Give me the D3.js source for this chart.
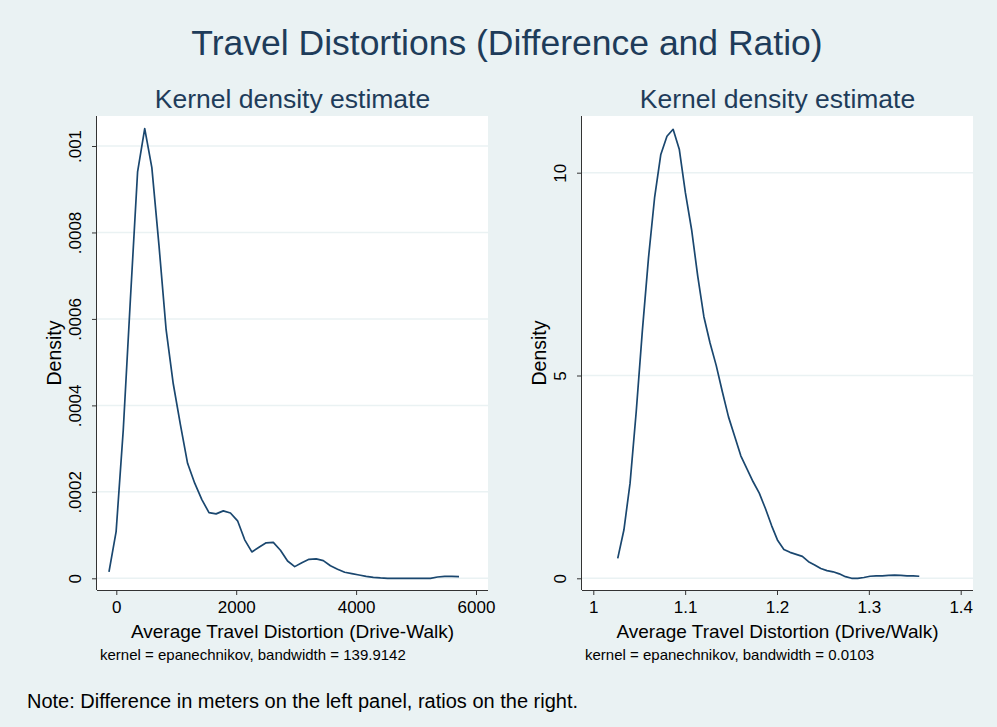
<!DOCTYPE html>
<html>
<head>
<meta charset="utf-8">
<script src="https://cdn.jsdelivr.net/npm/d3@7"></script>
<style>
  body { margin: 0; background: #eaf2f3; }
  text { font-family: "Liberation Sans", Arial, sans-serif; }
</style>
</head>
<body>
<div id="chart"></div>
<script>
var svgWidth = 997;
var svgHeight = 727;

// left panel: difference in meters (50-point kdensity grid)
var diffX = [-122, -3, 116, 235, 355, 474, 593, 712, 831, 950,
  1070, 1189, 1308, 1427, 1546, 1665, 1785, 1904, 2023, 2142,
  2261, 2380, 2500, 2619, 2738, 2857, 2976, 3095, 3214, 3334,
  3453, 3572, 3691, 3810, 3929, 4049, 4168, 4287, 4406, 4525,
  4644, 4764, 4883, 5002, 5121, 5240, 5359, 5478, 5598, 5717];
var diffDensity = [0.000015, 0.000108, 0.000343, 0.000645, 0.000940, 0.001040, 0.000950, 0.000770, 0.000575, 0.000450,
  0.000355, 0.000266, 0.000220, 0.000182, 0.000152, 0.000149, 0.000156, 0.000151, 0.000133, 0.000089,
  0.000061, 0.000072, 0.000082, 0.000083, 0.000065, 0.000040, 0.000027, 0.000036, 0.000044, 0.000045,
  0.000041, 0.000029, 0.000021, 0.000014, 0.000011, 0.0000077, 0.0000046, 0.0000023, 0.0000008, 0,
  0, 0, 0, 0, 0, 0, 0.0000030, 0.0000045, 0.0000045, 0.0000040];
var diffXTicks = [0, 2000, 4000, 6000];
var diffYTicks = [0, 0.0002, 0.0004, 0.0006, 0.0008, 0.001];
var diffYLabels = ["0", ".0002", ".0004", ".0006", ".0008", ".001"];

// right panel: ratio
var ratioX = [1.0266, 1.0333, 1.0400, 1.0467, 1.0534, 1.0601, 1.0668, 1.0735, 1.0802, 1.0869,
  1.0936, 1.1003, 1.1070, 1.1137, 1.1204, 1.1271, 1.1338, 1.1405, 1.1472, 1.1539,
  1.1606, 1.1673, 1.1740, 1.1807, 1.1874, 1.1941, 1.2008, 1.2075, 1.2142, 1.2209,
  1.2276, 1.2343, 1.2410, 1.2477, 1.2544, 1.2611, 1.2678, 1.2745, 1.2812, 1.2879,
  1.2946, 1.3013, 1.3080, 1.3147, 1.3214, 1.3281, 1.3348, 1.3415, 1.3482, 1.3549];
var ratioDensity = [0.49, 1.19, 2.34, 4.1, 6.1, 7.9, 9.4, 10.45, 10.9, 11.07,
  10.58, 9.5, 8.6, 7.45, 6.45, 5.8, 5.25, 4.6, 3.98, 3.5,
  3.02, 2.7, 2.38, 2.1, 1.72, 1.3, 0.93, 0.71, 0.64, 0.59,
  0.54, 0.41, 0.33, 0.24, 0.19, 0.16, 0.11, 0.04, 0.0, 0.0,
  0.02, 0.05, 0.06, 0.06, 0.07, 0.08, 0.07, 0.06, 0.06, 0.05];
var ratioXTicks = [1, 1.1, 1.2, 1.3, 1.4];
var ratioYTicks = [0, 5, 10];
var ratioYLabels = ["0", "5", "10"];

var bg = "#eaf2f3";
var navy = "#1a476f";

var svg = d3.select("#chart")
  .append("svg")
  .attr("width", svgWidth)
  .attr("height", svgHeight);

svg.append("rect")
  .attr("width", svgWidth)
  .attr("height", svgHeight)
  .attr("fill", bg);

svg.append("text")
  .attr("x", 507)
  .attr("y", 55)
  .attr("text-anchor", "middle")
  .attr("font-size", 35.5)
  .attr("fill", "#1e3c5a")
  .text("Travel Distortions (Difference and Ratio)");

function drawPanel(opts) {
  var left = opts.left, right = opts.right, top = 116, bottom = 590;

  var x = d3.scaleLinear().domain(opts.xDomain).range(opts.xRange);
  var y = d3.scaleLinear().domain(opts.yDomain).range(opts.yRange);

  var g = svg.append("g");

  // plot region
  g.append("rect")
    .attr("x", left)
    .attr("y", top)
    .attr("width", right - left)
    .attr("height", bottom - top)
    .attr("fill", "#ffffff");

  // gridlines
  g.selectAll(".grid")
    .data(opts.yTicks)
    .enter()
    .append("line")
    .attr("x1", left)
    .attr("x2", right)
    .attr("y1", d => y(d))
    .attr("y2", d => y(d))
    .attr("stroke", bg)
    .attr("stroke-width", 1.5);

  // density line
  var pts = opts.xs.map((v, i) => [v, opts.ys[i]]);
  g.append("path")
    .datum(pts)
    .attr("fill", "none")
    .attr("stroke", navy)
    .attr("stroke-width", 1.7)
    .attr("stroke-linejoin", "round")
    .attr("d", d3.line().x(d => x(d[0])).y(d => y(d[1])));

  // x axis
  var xAxis = g.append("g")
    .attr("transform", `translate(0, ${bottom})`)
    .call(d3.axisBottom(x).tickValues(opts.xTicks).tickSize(5).tickPadding(6)
      .tickFormat(d3.format("")));
  xAxis.select(".domain").attr("d", `M${left},0.5H${right}`).attr("stroke", "#333");
  xAxis.selectAll(".tick line").attr("stroke", "#333");
  xAxis.selectAll(".tick text")
    .attr("font-size", 17)
    .attr("fill", "#000")
    .attr("font-family", "Liberation Sans, Arial, sans-serif");

  // y axis
  var yAxis = g.append("g")
    .attr("transform", `translate(${left}, 0)`)
    .call(d3.axisLeft(y).tickValues(opts.yTicks).tickSize(5)
      .tickFormat((d, i) => opts.yLabels[i]));
  yAxis.select(".domain").attr("d", `M-0.5,${top}V${bottom}`).attr("stroke", "#333");
  yAxis.selectAll(".tick line").attr("stroke", "#333");
  yAxis.selectAll(".tick text")
    .attr("font-size", 17)
    .attr("fill", "#000")
    .attr("font-family", "Liberation Sans, Arial, sans-serif")
    .attr("x", null)
    .attr("dy", null)
    .attr("text-anchor", "middle")
    .attr("transform", "translate(-16,0) rotate(-90)");

  var cx = (left + right) / 2;

  g.append("text")
    .attr("x", cx)
    .attr("y", 108)
    .attr("text-anchor", "middle")
    .attr("font-size", 26.5)
    .attr("fill", "#1e3c5a")
    .text("Kernel density estimate");

  g.append("text")
    .attr("transform", `translate(${left - 36}, ${(top + bottom) / 2}) rotate(-90)`)
    .attr("text-anchor", "middle")
    .attr("font-size", 19.5)
    .attr("fill", "#000")
    .text("Density");

  g.append("text")
    .attr("x", cx)
    .attr("y", 638)
    .attr("text-anchor", "middle")
    .attr("font-size", 19)
    .attr("fill", "#000")
    .text(opts.xTitle);

  g.append("text")
    .attr("x", opts.noteX)
    .attr("y", 660)
    .attr("font-size", 15)
    .attr("fill", "#000")
    .text(opts.note);
}

drawPanel({
  left: 97, right: 488,
  xs: diffX, ys: diffDensity,
  xDomain: [0, 6000], xRange: [116.3, 476],
  yDomain: [0, 0.001], yRange: [578.3, 146],
  xTicks: diffXTicks, yTicks: diffYTicks, yLabels: diffYLabels,
  xTitle: "Average Travel Distortion (Drive-Walk)",
  note: "kernel = epanechnikov, bandwidth = 139.9142",
  noteX: 100
});

drawPanel({
  left: 582, right: 973,
  xs: ratioX, ys: ratioDensity,
  xDomain: [1, 1.4], xRange: [593.3, 960.7],
  yDomain: [0, 10], yRange: [578.3, 172.7],
  xTicks: ratioXTicks, yTicks: ratioYTicks, yLabels: ratioYLabels,
  xTitle: "Average Travel Distortion (Drive/Walk)",
  note: "kernel = epanechnikov, bandwidth = 0.0103",
  noteX: 585
});

svg.append("text")
  .attr("x", 27)
  .attr("y", 708)
  .attr("font-size", 20)
  .attr("fill", "#000")
  .text("Note: Difference in meters on the left panel, ratios on the right.");
</script>
</body>
</html>
